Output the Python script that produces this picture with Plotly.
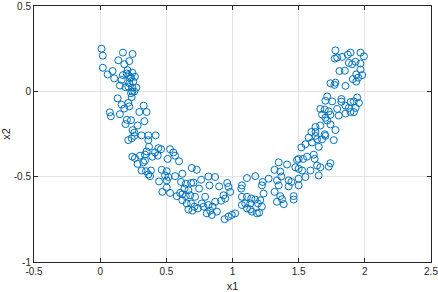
import plotly.graph_objects as go

x1 = [0.010, 0.020, 0.172, 0.245, 0.137, 0.220, 0.182, 0.020, 0.056, 0.094, 0.106, 0.207, 0.243, 0.172, 0.212,
      0.263, 0.225, 0.162, 0.149, 0.192, 0.220, 0.243, 0.273, 0.258, 0.233, 0.238, 0.132, 0.212, 0.162, 0.182,
      0.220, 0.073, 0.081, 0.149, 0.329, 0.296, 0.351, 0.202, 0.233, 0.192, 0.334, 0.283, 0.245, 0.258,
      0.200, 0.233, 0.250, 0.212, 0.243,
      1.778, 1.892, 1.967, 1.871, 1.791, 1.829, 1.773, 1.993, 1.930, 1.879, 1.904, 1.967, 1.808, 1.849, 1.967,
      1.935, 1.909, 1.950, 1.980, 1.935, 1.740, 1.778, 1.770, 1.854, 1.715, 1.753, 1.702, 1.823, 1.823, 1.892,
      1.942, 1.917, 1.955, 1.854, 1.879, 1.930, 1.664, 1.697, 1.728, 1.791, 1.892, 1.854, 1.917, 1.677, 1.702,
      1.740, 1.803, 1.715, 1.740, 1.627, 1.778, 1.664, 1.596, 1.627, 1.697,
      0.212, 0.238, 0.258, 0.313, 0.364, 0.419, 0.364, 0.369, 0.440, 0.460, 0.414, 0.528, 0.553, 0.351, 0.339,
      0.301, 0.243, 0.263, 0.394, 0.435, 0.510, 0.566, 0.596, 0.283, 0.326, 0.339, 0.313, 0.346, 0.384, 0.364,
      0.377, 0.465, 0.503, 0.490, 0.515, 0.503, 0.566, 0.621, 0.445, 0.692, 0.730, 0.611, 0.647, 0.687, 0.705,
      0.763, 0.818, 0.869, 0.826, 0.748, 0.899, 0.960, 0.970, 0.983, 0.503, 0.470, 0.528, 0.579, 0.604, 0.621,
      0.637, 0.667, 0.647, 0.680, 0.717, 0.793, 0.932, 0.945, 0.914, 0.869, 0.621, 0.654, 0.687, 0.712, 0.667,
      0.697, 0.768, 0.781, 0.818, 0.849, 0.831, 0.806, 0.844, 0.882, 0.940, 0.970, 0.995, 0.738,
      1.576, 1.639, 1.677, 1.702, 1.627, 1.765, 1.551, 1.520, 1.652, 1.601, 1.349, 1.412, 1.488, 1.500, 1.533,
      1.563, 1.614, 1.621, 1.639, 1.664, 1.728, 1.740, 1.475, 1.500, 1.526, 1.589, 1.551, 1.652, 1.500, 1.318,
      1.361, 1.369, 1.336, 1.273, 1.228, 1.222, 1.172, 1.109, 1.071, 1.066, 1.349, 1.424, 1.424, 1.500, 1.445,
      1.235, 1.318, 1.361, 1.374, 1.336, 1.387, 1.462, 1.462, 1.071, 1.109, 1.142, 1.172, 1.210, 1.096, 1.134,
      1.071, 1.192, 1.222, 1.109, 1.147, 1.185, 1.202, 1.134, 1.020]

x2 = [0.250, 0.209, 0.227, 0.219, 0.182, 0.177, 0.159, 0.138, 0.099, 0.119, 0.076, 0.124, 0.109, 0.095, 0.095,
      0.086, 0.076, 0.067, 0.034, 0.024, 0.047, 0.022, 0.022, -0.001, -0.011, -0.034, -0.041, -0.068, -0.078, -0.101,
      -0.088, -0.123, -0.146, -0.134, -0.084, -0.121, -0.121, -0.167, -0.169, -0.192, -0.175, -0.200, -0.227, -0.242,
      0.105, 0.082, 0.057, 0.028, -0.001,
      0.240, 0.227, 0.227, 0.215, 0.198, 0.202, 0.192, 0.205, 0.173, 0.167, 0.159, 0.163, 0.119, 0.121, 0.128,
      0.099, 0.072, 0.080, 0.095, 0.057, 0.047, 0.051, 0.038, 0.032, -0.030, -0.059, -0.055, -0.045, -0.061, -0.063,
      -0.036, -0.059, -0.068, -0.084, -0.097, -0.097, -0.103, -0.107, -0.117, -0.103, -0.121, -0.130, -0.122, -0.136, -0.155,
      -0.138, -0.142, -0.171, -0.194, -0.209, -0.227, -0.200, -0.238, -0.238, -0.252,
      -0.286, -0.275, -0.261, -0.258, -0.258, -0.258, -0.286, -0.325, -0.333, -0.339, -0.358, -0.339, -0.358, -0.352, -0.371,
      -0.377, -0.383, -0.391, -0.383, -0.377, -0.396, -0.377, -0.410, -0.425, -0.416, -0.406, -0.464, -0.468, -0.464, -0.487,
      -0.497, -0.460, -0.468, -0.493, -0.502, -0.522, -0.497, -0.483, -0.528, -0.449, -0.460, -0.531, -0.541, -0.537, -0.535,
      -0.518, -0.499, -0.502, -0.551, -0.570, -0.557, -0.537, -0.560, -0.589, -0.564, -0.589, -0.595, -0.614, -0.595, -0.603,
      -0.570, -0.580, -0.614, -0.609, -0.618, -0.618, -0.609, -0.628, -0.641, -0.647, -0.638, -0.657, -0.657, -0.676, -0.692,
      -0.699, -0.657, -0.676, -0.666, -0.676, -0.699, -0.715, -0.724, -0.705, -0.749, -0.734, -0.724, -0.686,
      -0.271, -0.281, -0.281, -0.261, -0.261, -0.286, -0.310, -0.329, -0.325, -0.300, -0.416, -0.429, -0.402, -0.396, -0.396,
      -0.383, -0.371, -0.396, -0.435, -0.445, -0.441, -0.421, -0.445, -0.454, -0.464, -0.464, -0.502, -0.493, -0.512, -0.460,
      -0.470, -0.499, -0.522, -0.512, -0.531, -0.551, -0.497, -0.508, -0.551, -0.570, -0.551, -0.522, -0.557, -0.551, -0.531,
      -0.599, -0.589, -0.614, -0.632, -0.647, -0.661, -0.614, -0.634, -0.618, -0.618, -0.628, -0.634, -0.638, -0.657, -0.657,
      -0.666, -0.657, -0.676, -0.686, -0.705, -0.715, -0.711, -0.692, -0.715]

x_ticks = [-0.5, 0, 0.5, 1, 1.5, 2, 2.5]
x_tick_labels = ["-0.5", "0", "0.5", "1", "1.5", "2", "2.5"]
y_ticks = [-1, -0.5, 0, 0.5]
y_tick_labels = ["-1", "-0.5", "0", "0.5"]

fig = go.Figure(go.Scatter(
    x=x1, y=x2, mode="markers",
    marker=dict(symbol="circle-open", size=7, color="#0072BD", line=dict(width=1, color="#0072BD")),
    showlegend=False, hoverinfo="skip"))

axis_common = dict(
    showgrid=True, gridcolor="#e3e3e3", gridwidth=1,
    showline=True, linecolor="#262626", linewidth=1, mirror="allticks",
    ticks="inside", ticklen=4, tickcolor="#262626", tickwidth=1,
    zeroline=False, automargin=False, ticklabeloverflow="allow",
    tickfont=dict(family="Liberation Sans, Arial", size=10, color="#262626"),
    title_font=dict(family="Liberation Sans, Arial", size=11, color="#262626"),
)

fig.update_xaxes(range=[-0.5, 2.5], tickvals=x_ticks, ticktext=x_tick_labels,
                 title_text="x1", **axis_common)
fig.update_yaxes(range=[-1, 0.5], tickvals=y_ticks, ticktext=y_tick_labels,
                 title_text="x2", **axis_common)

fig.update_layout(
    width=438, height=292,
    margin=dict(l=34, r=7, t=6, b=30, pad=0),
    paper_bgcolor="white", plot_bgcolor="white",
)

fig.write_html("out.html", config={"displayModeBar": False},
               post_script="document.body.style.margin='0';document.body.style.overflow='hidden';")
